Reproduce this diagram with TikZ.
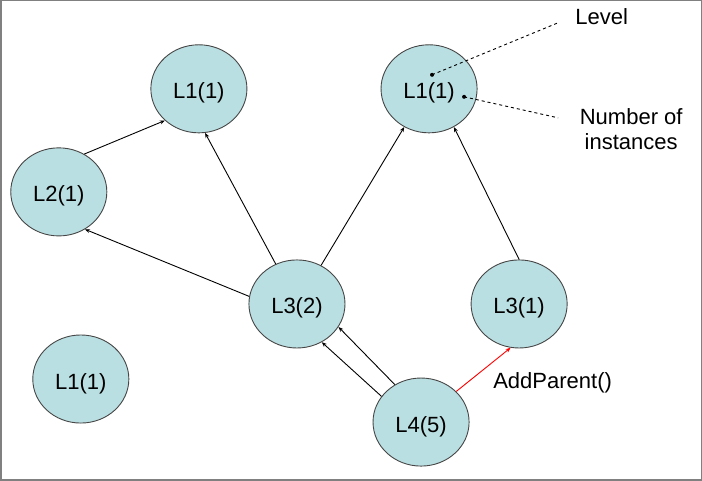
\documentclass[tikz,border=0pt]{standalone}
\usepackage{fontspec}
\setmainfont{Liberation Sans}
\usepackage{tikz}
\usetikzlibrary{positioning,arrows.meta,shapes.geometric}

\definecolor{nodefill}{RGB}{186,223,226}
\definecolor{nodeline}{RGB}{70,70,70}

\tikzset{
	level/.style={ellipse,draw=nodeline,fill=nodefill,line width=0.9pt,minimum width=96pt,minimum height=88pt,inner sep=0pt,text height=20pt,text depth=0pt,font=\fontsize{22}{25}\selectfont},
	parent/.style={-{Stealth[length=5pt,width=4pt]},line width=0.9pt},
	note/.style={font=\fontsize{22}{25}\selectfont,align=center,inner sep=0pt}
}

\begin{document}
\begin{tikzpicture}[x=1pt,y=-1pt]
				\draw[gray,line width=1.5pt] (1,1) rectangle (701,480);
				\node [level] (L1a) at (199,89) {L1(1)};
				\node [level] (L1b) at (429,89) {L1(1)};
				\node [level] (L2) at (59,192) {L2(1)};
				\node [level] (L3a) at (297,304) {L3(2)};
				\node [level] (L3b) at (519,304) {L3(1)};
				\node [level] (L1c) at (81,379) {L1(1)};
				\node [level] (L4) at (421,422) {L4(5)};
				\coordinate []  (lvldot) at (432,75) ;
				\coordinate []  (numdot) at (464,97) ;
				\coordinate []  (lvlend) at (558,23) ;
				\coordinate []  (numend) at (558,118) ;
				\node [note,anchor=west] (lvl) at (575,17) {Level};
				\node [note] (num) at (631,129) {Number of\\instances};
				\node [note,anchor=west] (add) at (493,383) {AddParent()};
				\fill (lvldot) circle (2pt);
				\fill (numdot) circle (2pt);
				\draw[dashed,line width=0.9pt] (lvldot) -- (lvlend);
				\draw[dashed,line width=0.9pt] (numdot) -- (numend);
				\draw[parent] (L2.56) -- (L1a.-137);
				\draw[parent] (L3a.171) -- (L2.-55);
				\draw[parent] (L3a.118) -- (L1a.-82);
				\draw[parent] (L3a.58) -- (L1b.-123);
				\draw[parent] (L3b.90) -- (L1b.-57);
				\draw[parent] (L4.147) -- (L3a.-57);
				\draw[parent] (L4.125) -- (L3a.-29);
				\draw[parent,red] (L4.41) -- (L3b.-101);
			\end{tikzpicture}
\end{document}
